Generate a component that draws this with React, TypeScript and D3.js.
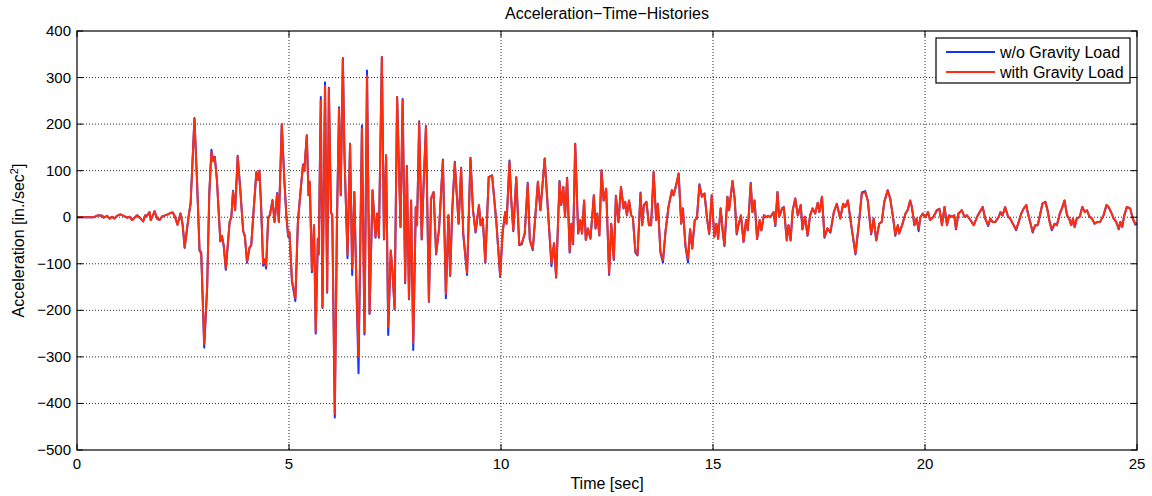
import React from "react";
import * as d3 from "d3";

// time base [sec]
const time = [
  0, 0.4, 0.49, 0.6, 0.63, 0.71, 0.77, 0.83, 0.88, 0.94,
  1.02, 1.1, 1.18, 1.24, 1.3, 1.38, 1.42, 1.48, 1.56, 1.61,
  1.65, 1.71, 1.74, 1.79, 1.83, 1.89, 1.95, 2.0, 2.08, 2.14,
  2.2, 2.26, 2.31, 2.37, 2.44, 2.49, 2.54, 2.63, 2.68, 2.77,
  2.83, 2.89, 2.93, 3.0, 3.07, 3.12, 3.17, 3.21, 3.25, 3.3,
  3.38, 3.42, 3.46, 3.51, 3.6, 3.64, 3.68, 3.73, 3.79, 3.85,
  3.92, 3.96, 4.01, 4.07, 4.11, 4.17, 4.23, 4.26, 4.3, 4.34,
  4.39, 4.42, 4.46, 4.51, 4.55, 4.61, 4.66, 4.72, 4.76, 4.83,
  4.89, 4.94, 4.98, 5.01, 5.07, 5.15, 5.21, 5.27, 5.33, 5.36,
  5.42, 5.46, 5.49, 5.54, 5.59, 5.63, 5.68, 5.7, 5.75, 5.79,
  5.85, 5.9, 5.94, 5.99, 6.02, 6.08, 6.13, 6.18, 6.22, 6.27,
  6.31, 6.38, 6.44, 6.49, 6.54, 6.59, 6.64, 6.72, 6.78, 6.84,
  6.9, 6.97, 7.04, 7.08, 7.12, 7.19, 7.24, 7.29, 7.34, 7.4,
  7.44, 7.49, 7.55, 7.63, 7.68, 7.74, 7.78, 7.83, 7.88, 7.93,
  7.99, 8.02, 8.07, 8.13, 8.18, 8.23, 8.3, 8.35, 8.41, 8.47,
  8.54, 8.63, 8.7, 8.76, 8.8, 8.85, 8.91, 9.0, 9.06, 9.11,
  9.2, 9.28, 9.34, 9.4, 9.48, 9.52, 9.57, 9.63, 9.71, 9.79,
  9.89, 9.98, 10.04, 10.1, 10.13, 10.2, 10.24, 10.29, 10.36, 10.43,
  10.49, 10.56, 10.63, 10.68, 10.75, 10.87, 10.93, 11.03, 11.11, 11.19,
  11.25, 11.3, 11.38, 11.42, 11.47, 11.51, 11.56, 11.62, 11.66, 11.7,
  11.75, 11.82, 11.87, 11.91, 11.96, 12.0, 12.05, 12.11, 12.19, 12.23,
  12.27, 12.32, 12.37, 12.42, 12.48, 12.55, 12.6, 12.66, 12.71, 12.77,
  12.83, 12.89, 12.93, 12.97, 13.02, 13.07, 13.11, 13.17, 13.22, 13.29,
  13.33, 13.37, 13.43, 13.49, 13.54, 13.6, 13.66, 13.7, 13.76, 13.82,
  13.88, 13.95, 14.03, 14.07, 14.13, 14.19, 14.25, 14.29, 14.35, 14.41,
  14.46, 14.51, 14.57, 14.62, 14.68, 14.74, 14.8, 14.86, 14.91, 14.97,
  15.03, 15.08, 15.12, 15.18, 15.23, 15.27, 15.34, 15.38, 15.46, 15.51,
  15.56, 15.6, 15.66, 15.72, 15.78, 15.82, 15.89, 15.93, 15.98, 16.04,
  16.1, 16.14, 16.2, 16.25, 16.3, 16.35, 16.43, 16.47, 16.52, 16.56,
  16.63, 16.67, 16.74, 16.78, 16.83, 16.88, 16.94, 17.0, 17.07, 17.11,
  17.17, 17.23, 17.29, 17.35, 17.41, 17.47, 17.51, 17.57, 17.63, 17.7,
  17.77, 17.85, 17.92, 18.0, 18.07, 18.12, 18.18, 18.26, 18.36, 18.44,
  18.51, 18.59, 18.65, 18.73, 18.79, 18.85, 18.92, 18.98, 19.04, 19.12,
  19.18, 19.25, 19.3, 19.36, 19.39, 19.46, 19.54, 19.59, 19.65, 19.69,
  19.75, 19.8, 19.85, 19.89, 19.95, 20.01, 20.07, 20.12, 20.2, 20.28,
  20.34, 20.4, 20.46, 20.52, 20.57, 20.64, 20.69, 20.73, 20.79, 20.87,
  20.93, 20.99, 21.07, 21.15, 21.23, 21.29, 21.36, 21.42, 21.49, 21.54,
  21.59, 21.66, 21.74, 21.78, 21.83, 21.89, 21.96, 22.01, 22.09, 22.15,
  22.21, 22.27, 22.33, 22.39, 22.42, 22.48, 22.54, 22.6, 22.66, 22.72,
  22.77, 22.84, 22.89, 22.94, 22.99, 23.06, 23.11, 23.18, 23.23, 23.29,
  23.35, 23.4, 23.45, 23.49, 23.53, 23.58, 23.65, 23.71, 23.77, 23.82,
  23.88, 23.94, 24.0, 24.06, 24.13, 24.21, 24.28, 24.33, 24.39, 24.45,
  24.51, 24.57, 24.61, 24.65, 24.7, 24.76, 24.84, 24.9, 24.96, 25.0,
];

// w/o gravity load [in./sec^2]
const accWithout = [
  0, 0, 4, 3, -1, 3, -3, 1, -3, 3,
  6, 3, -1, 1, -6, 1, 4, -1, -9, 4,
  3, 11, -6, 4, 13, -3, -6, 1, 4, 6,
  9, 10, 1, -16, 8, -15, -66, 0, 30, 213,
  80, -72, -78, -280, -150, 50, 145, 122, 130, 80,
  -52, -40, -62, -113, -10, 0, 57, 15, 132, 60,
  -30, -42, -98, -65, -60, 20, 97, 80, 100, 30,
  -104, -92, -110, 0, 5, 37, -10, 52, -10, 200,
  80, 0, -42, -33, -138, -180, -10, 54, 113, 100,
  176, 47, 76, -118, -17, -250, -46, -80, 258, -195,
  290, -162, 278, 11, 4, -430, -17, 236, 47, 342,
  126, -88, 158, -124, 54, -148, -335, 197, -252, 315,
  -208, 58, -44, 8, -44, 344, -48, 133, -253, -73,
  -116, -198, 258, -21, 254, -142, 110, -176, 36, -285,
  22, -17, 206, -48, 83, 196, -182, 40, 54, -80,
  -24, 124, -174, 4, -126, 15, 119, -14, 106, -37,
  -124, 128, 15, -33, 26, -17, -3, -98, 86, 90,
  -10, -128, -31, 11, -14, 122, 40, -30, 86, -60,
  -58, -35, 74, -49, -71, 76, 15, 126, 11, -105,
  -56, -130, 78, 26, 65, 1, 85, -76, -14, -58,
  158, -35, -6, -35, 36, -49, -24, -46, 47, -24,
  8, -39, 101, 36, 61, -124, -14, -92, 46, -10,
  65, 19, 33, 4, 36, 4, 0, -76, -82, 53,
  -17, 26, 33, -17, -17, 97, -6, 29, -76, -97,
  -31, 22, 58, 47, 69, 94, -14, 19, -62, -97,
  -26, -67, -6, -3, 71, 44, 51, -3, -36, 47,
  -42, -14, -46, 19, -31, -62, 44, 15, 78, 40,
  -37, -17, 4, -53, -6, -28, 74, 11, 36, -47,
  -6, -28, 4, 0, 3, 0, 11, -19, 54, 1,
  19, 22, -50, -17, -50, 15, 40, 4, 26, -26,
  1, -40, 4, 19, 8, 31, 11, 44, -44, -24,
  -33, 11, 29, -3, 29, 22, 36, -17, -80, -14,
  53, 56, 36, -37, -3, -50, -14, -10, 33, 58,
  40, -3, -40, -17, -35, -17, 8, 15, 36, 22,
  -17, -3, -30, 0, 8, 0, 11, -6, 1, 15,
  18, -17, 22, -17, 4, 1, 4, -26, 8, 15,
  1, 4, -6, -17, 1, 11, 22, -3, -19, -3,
  -10, -10, 1, 11, 4, 22, 1, -3, -17, -28,
  -10, 8, 19, 26, 11, -10, -33, -17, -17, 8,
  29, 33, 15, -10, -28, -14, -17, 8, 19, 36,
  4, -3, -17, -3, -21, -3, 1, 22, 11, 15,
  1, -3, -14, -10, -10, 4, 26, 22, 11, -3,
  -10, -26, -10, -21, 4, 22, 19, -3, -16, -14,
];

// with gravity load [in./sec^2]
const accWith = [
  0, 0, 4, 3, -1, 3, -3, 1, -3, 3,
  6, 3, -1, 1, -6, 1, 4, -1, -9, 4,
  3, 11, -6, 4, 13, -3, -6, 1, 4, 6,
  9, 10, 1, -16, 8, -15, -65, 0, 30, 211,
  80, -70, -75, -272, -150, 50, 140, 120, 128, 80,
  -50, -40, -60, -110, -10, 0, 55, 15, 130, 60,
  -30, -40, -95, -65, -60, 20, 95, 80, 100, 30,
  -100, -90, -105, 0, 5, 35, -10, 50, -10, 200,
  80, 0, -39, -31, -135, -174, -10, 54, 111, 100,
  176, 47, 76, -114, -17, -246, -46, -78, 250, -192,
  282, -160, 276, 11, 4, -422, -17, 233, 47, 340,
  126, -81, 158, -110, 54, -146, -300, 190, -249, 304,
  -206, 58, -42, 8, -42, 344, -46, 133, -235, -71,
  -114, -196, 258, -21, 250, -139, 108, -174, 36, -270,
  22, -17, 204, -46, 83, 194, -181, 40, 54, -78,
  -24, 122, -165, 4, -124, 15, 116, -14, 104, -35,
  -120, 126, 15, -31, 26, -17, -3, -96, 86, 90,
  -10, -125, -31, 11, -14, 120, 40, -28, 86, -58,
  -56, -35, 72, -49, -69, 76, 15, 126, 11, -99,
  -56, -128, 76, 26, 65, 1, 83, -74, -14, -56,
  158, -35, -6, -35, 36, -49, -24, -46, 47, -24,
  8, -39, 101, 36, 61, -121, -14, -90, 44, -10,
  65, 19, 33, 4, 36, 4, 0, -74, -80, 51,
  -17, 26, 33, -17, -17, 97, -6, 29, -74, -92,
  -31, 22, 58, 47, 69, 94, -14, 19, -60, -90,
  -26, -67, -6, -3, 69, 44, 51, -3, -35, 47,
  -42, -14, -46, 19, -31, -60, 44, 15, 78, 40,
  -35, -17, 4, -53, -6, -28, 72, 11, 36, -46,
  -6, -28, 4, 0, 3, 0, 11, -17, 54, 1,
  19, 22, -49, -17, -49, 15, 40, 4, 26, -26,
  1, -39, 4, 19, 8, 31, 11, 44, -42, -24,
  -31, 11, 29, -3, 29, 22, 36, -17, -78, -14,
  51, 54, 36, -35, -3, -49, -14, -10, 33, 58,
  40, -3, -37, -17, -35, -17, 8, 15, 36, 22,
  -17, -3, -26, 0, 8, 0, 11, -6, 1, 15,
  18, -17, 22, -17, 4, 1, 4, -24, 8, 15,
  1, 4, -6, -17, 1, 11, 22, -3, -17, -3,
  -10, -10, 1, 11, 4, 22, 1, -3, -17, -26,
  -10, 8, 19, 26, 11, -10, -31, -17, -17, 8,
  29, 33, 15, -10, -26, -14, -17, 8, 19, 36,
  4, -3, -17, -3, -21, -3, 1, 22, 11, 15,
  1, -3, -14, -10, -10, 4, 26, 22, 11, -3,
  -10, -24, -10, -21, 4, 22, 19, -3, -14, -12,
];

const xTicks = [0, 5, 10, 15, 20, 25];
const yTicks = [400, 300, 200, 100, 0, -100, -200, -300, -400, -500];
const seriesNames = ["w/o Gravity Load", "with Gravity Load"];
const seriesColors = ["#1232ff", "#ff2e0c"];

const W = 1152;
const H = 496;
const FONT = "'Liberation Sans', Arial, Helvetica, sans-serif";

export default function App() {
  const left = 77;
  const right = 1137;
  const top = 31;
  const bottom = 450;

  const x = d3.scaleLinear().domain([0, 25]).range([left, right]);
  const y = d3.scaleLinear().domain([-500, 400]).range([bottom, top]);

  const line = d3
    .line<number>()
    .x((_, i) => x(time[i]))
    .y((d) => y(d));

  const fmt = (v: number) => (v < 0 ? "\u2212" + Math.abs(v) : String(v));
  const tick = 6;

  return (
    <svg
      width={W}
      height={H}
      style={{ position: "absolute", left: 0, top: 0, background: "#fff" }}
      fontFamily={FONT}
    >
      <rect x={0} y={0} width={W} height={H} fill="#fff" />

      {/* grid */}
      <g stroke="#111" strokeWidth={0.9} strokeDasharray="1,2">
        {xTicks.slice(1, -1).map((t) => (
          <line key={"gx" + t} x1={x(t)} x2={x(t)} y1={top} y2={bottom} />
        ))}
        {yTicks.slice(1, -1).map((t) => (
          <line key={"gy" + t} x1={left} x2={right} y1={y(t)} y2={y(t)} />
        ))}
      </g>

      {/* series */}
      <g fill="none" strokeWidth={2} strokeLinejoin="round">
        <path d={line(accWithout) || ""} stroke={seriesColors[0]} />
        <path d={line(accWith) || ""} stroke={seriesColors[1]} />
      </g>

      {/* ticks */}
      <g stroke="#000" strokeWidth={1}>
        {xTicks.map((t) => (
          <g key={"tx" + t}>
            <line x1={x(t)} x2={x(t)} y1={bottom} y2={bottom - tick} />
            <line x1={x(t)} x2={x(t)} y1={top} y2={top + tick} />
          </g>
        ))}
        {yTicks.map((t) => (
          <g key={"ty" + t}>
            <line x1={left} x2={left + tick} y1={y(t)} y2={y(t)} />
            <line x1={right} x2={right - tick} y1={y(t)} y2={y(t)} />
          </g>
        ))}
      </g>

      {/* frame */}
      <rect
        x={left}
        y={top}
        width={right - left}
        height={bottom - top}
        fill="none"
        stroke="#000"
        strokeWidth={1.2}
      />

      {/* tick labels */}
      <g fontSize={15} fill="#000">
        {xTicks.map((t) => (
          <text key={"lx" + t} x={x(t)} y={bottom + 19} textAnchor="middle">
            {t}
          </text>
        ))}
        {yTicks.map((t) => (
          <text key={"ly" + t} x={left - 6} y={y(t) + 5} textAnchor="end">
            {fmt(t)}
          </text>
        ))}
      </g>

      {/* titles */}
      <text x={(left + right) / 2} y={19} textAnchor="middle" fontSize={16}>
        Acceleration{"\u2212"}Time{"\u2212"}Histories
      </text>
      <text x={(left + right) / 2} y={489} textAnchor="middle" fontSize={16}>
        Time [sec]
      </text>
      <text
        transform={`translate(24, ${(top + bottom) / 2}) rotate(-90)`}
        textAnchor="middle"
        fontSize={16}
      >
        Acceleration [in./sec
        <tspan dy={-6} fontSize={11}>
          2
        </tspan>
        <tspan dy={6}>]</tspan>
      </text>

      {/* legend */}
      <g>
        <rect x={936} y={38} width={194} height={45} fill="#fff" stroke="#000" strokeWidth={1.2} />
        {seriesNames.map((name, i) => (
          <g key={name}>
            <line
              x1={946}
              x2={995}
              y1={52 + i * 20}
              y2={52 + i * 20}
              stroke={seriesColors[i]}
              strokeWidth={2}
            />
            <text x={1000} y={57.5 + i * 20} fontSize={16}>
              {name}
            </text>
          </g>
        ))}
      </g>
    </svg>
  );
}
